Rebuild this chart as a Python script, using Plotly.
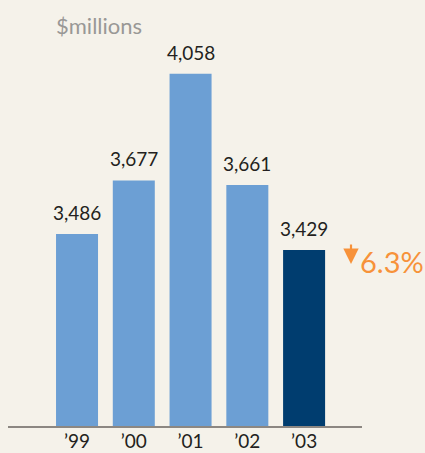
import plotly.graph_objects as go

years = ["’99", "’00", "’01", "’02", "’03"]
revenue = [3486, 3677, 4058, 3661, 3429]
bar_colors = ["#6C9FD4", "#6C9FD4", "#6C9FD4", "#6C9FD4", "#003D6F"]
labels = ["3,486", "3,677", "4,058", "3,661", "3,429"]
change_text = "6.3%"
unit_text = "$millions"

FONT = "Lato"
TEXT = "#231F20"
ORANGE = "#F7923A"
BG = "#F5F2EA"

fig = go.Figure()
fig.add_trace(go.Bar(
    x=years, y=revenue, marker=dict(color=bar_colors, line=dict(width=0)),
    hoverinfo="skip",
))

for yr, v, lab in zip(years, revenue, labels):
    fig.add_annotation(x=yr, y=v, xref="x", yref="y", text=lab, showarrow=False,
                       yanchor="bottom", yshift=8,
                       font=dict(family=FONT, size=19, color=TEXT))

fig.add_annotation(xref="paper", yref="paper", x=(54 - 8) / 354, y=1 - (25 - 40) / 386,
                   text=unit_text, showarrow=False, xanchor="left", yanchor="middle",
                   font=dict(family=FONT, size=22, color="#999896"))

# change indicator next to last bar
fig.add_annotation(xref="paper", yref="paper", x=(358 - 8) / 354, y=1 - (261 - 40) / 386,
                   text=change_text, showarrow=False, xanchor="left", yanchor="middle",
                   font=dict(family=FONT, size=29, color=ORANGE))
fig.add_annotation(xref="paper", yref="paper", x=(351 - 8) / 354, y=1 - (264 - 40) / 386,
                   text="", showarrow=True, ax=0, ay=-21, axref="pixel", ayref="pixel",
                   arrowhead=2, arrowsize=1.4, arrowwidth=2.2, arrowcolor=ORANGE,
                   standoff=0, startstandoff=0)

fig.update_layout(
    width=425, height=453,
    margin=dict(l=8, r=63, t=40, b=27, pad=0, autoexpand=False),
    paper_bgcolor=BG, plot_bgcolor=BG,
    bargap=0.26, showlegend=False,
    xaxis=dict(type="category", range=[-1.216, 5.02], showgrid=False, zeroline=False,
               showline=True, linecolor="#8C8782", linewidth=2, ticks="",
               automargin=False, ticklabelstandoff=-3,
               tickfont=dict(family=FONT, size=19, color=TEXT), fixedrange=True),
    yaxis=dict(range=[2800, 4178.6], visible=False, showgrid=False, zeroline=False,
               automargin=False, fixedrange=True),
)

fig.write_html("out.html")
